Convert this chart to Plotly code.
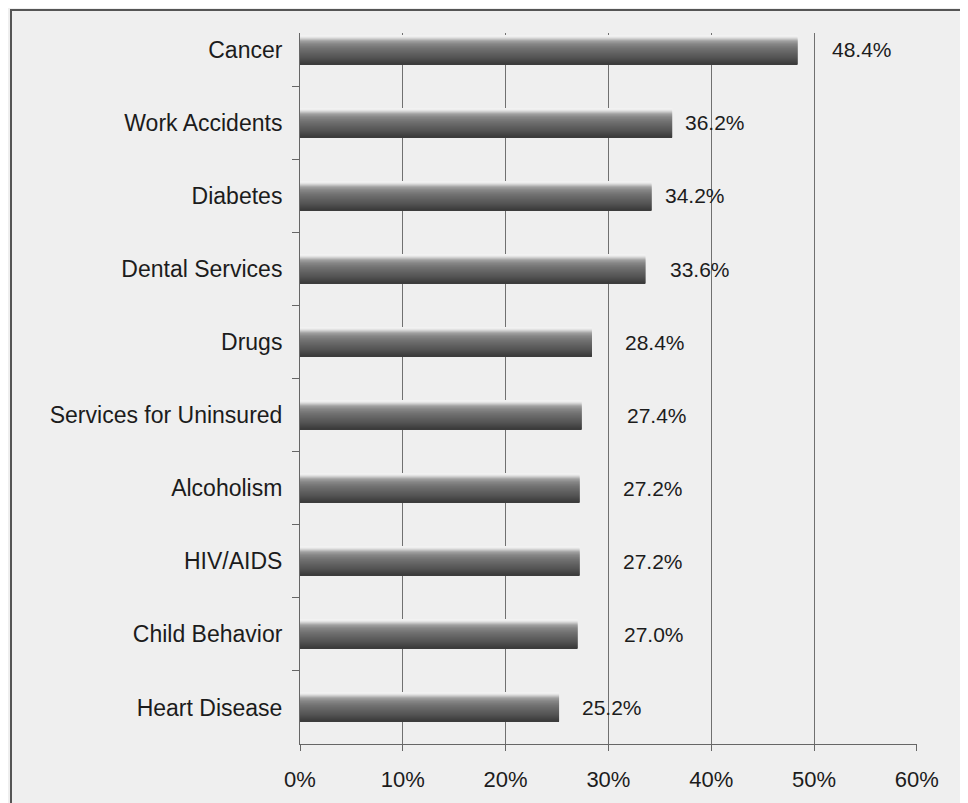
import plotly.graph_objects as go

categories = ["Cancer", "Work Accidents", "Diabetes", "Dental Services", "Drugs",
              "Services for Uninsured", "Alcoholism", "HIV/AIDS", "Child Behavior",
              "Heart Disease"]
values = [48.4, 36.2, 34.2, 33.6, 28.4, 27.4, 27.2, 27.2, 27.0, 25.2]
x_ticks = [0, 10, 20, 30, 40, 50, 60]
x_tick_labels = ["0%", "10%", "20%", "30%", "40%", "50%", "60%"]

# label horizontal offsets (px) – styling only
label_shift = [32, 11, 11, 23, 31, 43, 41, 41, 44, 21]

BG = "#efefef"
TXT = "#1c1c1c"
FONT = "Liberation Sans, Arial, sans-serif"

fig = go.Figure()

# cylinder shading: gradient stops (px from top, grey level)
stops = [(0, 245), (2, 235), (4, 200), (6, 160), (9, 135), (13, 115),
         (18, 98), (23, 82), (27, 66), (29, 58)]
n_px = 29
px_per_unit = 73.1


def grey_at(p):
    for (p0, g0), (p1, g1) in zip(stops[:-1], stops[1:]):
        if p0 <= p <= p1:
            t = (p - p0) / (p1 - p0) if p1 > p0 else 0
            return round(g0 + (g1 - g0) * t)
    return stops[-1][1]


start = -(n_px / px_per_unit) / 2
w = 1 / px_per_unit
for i in range(n_px):
    g = grey_at(i + 0.5)
    fig.add_trace(go.Bar(
        x=values, y=categories, orientation="h",
        width=w * 1.15, offset=start + i * w,
        marker=dict(color=f"rgb({g},{g},{g})", line=dict(width=0)),
        hoverinfo="skip", showlegend=False,
    ))

for c, v, s in zip(categories, values, label_shift):
    fig.add_annotation(x=v, y=c, text=f"{v:.1f}%", showarrow=False,
                       xanchor="left", yanchor="middle", xshift=s,
                       font=dict(family=FONT, size=21, color=TXT))

# outer frame of the scanned chart
fig.add_shape(type="rect", xref="paper", yref="paper",
              x0=-0.4684, y0=-0.2, x1=1.3, y1=1.0323,
              line=dict(color="#555555", width=2), layer="below")

fig.update_layout(
    width=960, height=795,
    margin=dict(l=292, r=51, t=25, b=59),
    paper_bgcolor=BG, plot_bgcolor=BG,
    barmode="overlay",
    font=dict(family=FONT, size=23, color=TXT),
    xaxis=dict(range=[0, 60.02], tickvals=x_ticks, ticktext=x_tick_labels,
               showgrid=True, gridcolor="#707070", gridwidth=1,
               showline=True, linecolor="#666666", linewidth=1,
               ticks="outside", ticklen=6, tickcolor="#666666",
               ticklabelstandoff=10,
               zeroline=False, tickfont=dict(size=22, color=TXT)),
    yaxis=dict(type="category", categoryorder="array", categoryarray=categories,
               range=[9.5, -0.23], showgrid=False, zeroline=False,
               showline=True, linecolor="#666666", linewidth=1,
               ticks="outside", ticklen=7, tickcolor="#666666",
               tickson="boundaries", ticklabelstandoff=12,
               tickfont=dict(size=23, color=TXT)),
)

fig.write_html("out.html")
